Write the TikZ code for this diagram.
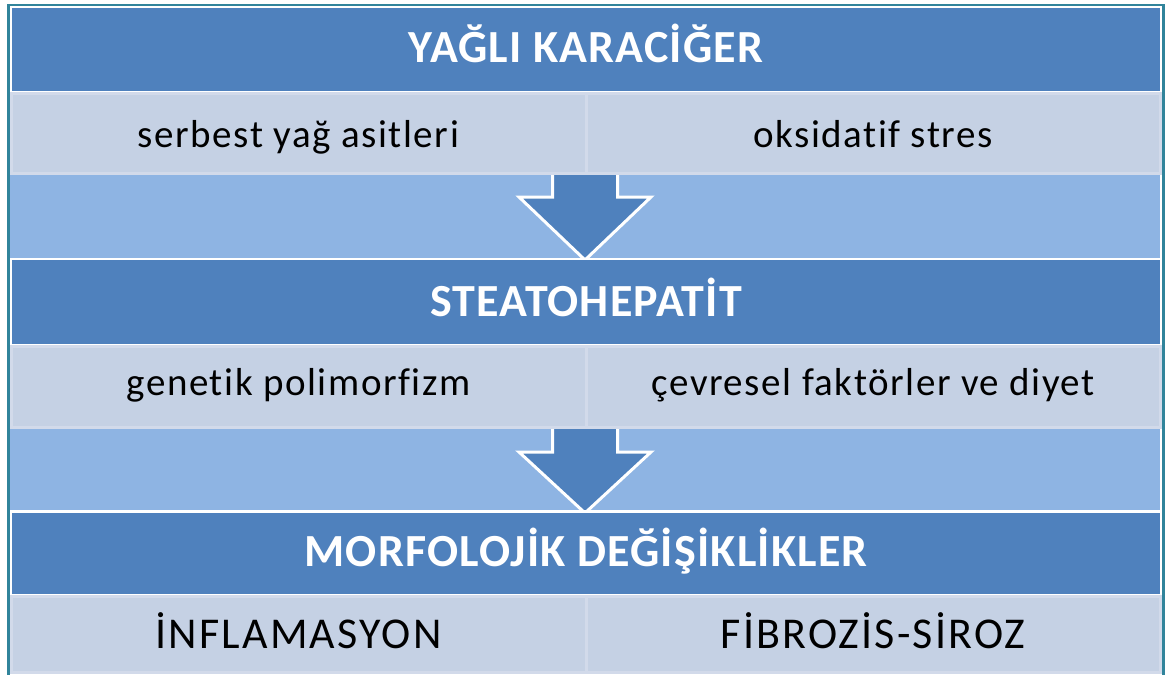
\documentclass[tikz,border=0pt]{standalone}
\usepackage{fontspec}
\setmainfont{Carlito}
\newfontfamily\hdrfont[LetterSpace=2.5, Ligatures=NoCommon]{Carlito}
\newfontfamily\bodyfont[LetterSpace=4, Ligatures=NoCommon]{Carlito}
\newfontfamily\lastfont[LetterSpace=5, Ligatures=NoCommon]{Carlito}
\usetikzlibrary{calc}
\definecolor{hdr}{HTML}{4F81BD}
\definecolor{cellbg}{HTML}{C5D1E4}
\definecolor{cellln}{HTML}{D2DAEA}
\definecolor{band}{HTML}{8EB4E3}
\definecolor{frame}{HTML}{31849B}
\tikzset{
  header/.style={fill=hdr, draw=white, line width=2.5pt, anchor=north west, inner sep=0pt, outer sep=0pt},
  cell/.style={fill=cellbg, draw=cellln, line width=3pt, anchor=north west, inner sep=0pt, outer sep=0pt},
  bandbox/.style={fill=band, draw=none, anchor=north west, inner sep=0pt, outer sep=0pt},
  htext/.style={font=\hdrfont\bfseries\fontsize{46}{50}\selectfont, text=white, anchor=base, inner sep=0pt},
  btext/.style={font=\bodyfont\fontsize{39}{43}\selectfont, text=black, anchor=base, inner sep=0pt},
  ltext/.style={font=\lastfont\fontsize{44}{48}\selectfont, text=black, anchor=base, inner sep=0pt},
  downarrow/.style={fill=hdr, draw=white, line width=3pt, line join=miter},
  frameline/.style={draw=frame, line width=2.5pt}
}
\begin{document}
\begin{tikzpicture}[x=1pt,y=-1pt]
\useasboundingbox (0,0) rectangle (1170,675);
\fill[white] (0,0) rectangle (1170,675);
% light bands
\node[bandbox, minimum width=1150pt, minimum height=86pt] (b1) at (10,172) {};
\node[bandbox, minimum width=1150pt, minimum height=84pt] (b2) at (10,427) {};
% arrows
\coordinate (a1) at ($(b1.north)+(0,0)$);
\draw[downarrow] ($(a1)+(-32.5,0)$) -- ($(a1)+(-32.5,25)$) -- ($(a1)+(-66,25)$) -- ($(a1)+(0,88)$) -- ($(a1)+(66,25)$) -- ($(a1)+(32.5,25)$) -- ($(a1)+(32.5,0)$);
\coordinate (a2) at ($(b2.north)+(0,0)$);
\draw[downarrow] ($(a2)+(-32.5,0)$) -- ($(a2)+(-32.5,25)$) -- ($(a2)+(-66,25)$) -- ($(a2)+(0,86)$) -- ($(a2)+(66,25)$) -- ($(a2)+(32.5,25)$) -- ($(a2)+(32.5,0)$);
% headers
\node[header, minimum width=1151pt, minimum height=86pt] (h1) at (10.5,6.5) {};
\node[header, minimum width=1151pt, minimum height=86pt] (h2) at (10.5,259) {};
\node[header, minimum width=1151pt, minimum height=84pt] (h3) at (10.5,511.5) {};
% cells
\node[cell, minimum width=575pt, minimum height=80pt] (c1a) at (11,93) {};
\node[cell, minimum width=574pt, minimum height=80pt] (c1b) at (586,93) {};
\node[cell, minimum width=575pt, minimum height=81pt] (c2a) at (11,346) {};
\node[cell, minimum width=574pt, minimum height=81pt] (c2b) at (586,346) {};
\node[cell, minimum width=575pt, minimum height=76pt] (c3a) at (11,596) {};
\node[cell, minimum width=574pt, minimum height=76pt] (c3b) at (586,596) {};
% texts
\node[htext] (t1) at ($(h1.center)+(0,13)$) {YAĞLI KARACİĞER};
\node[htext] (t2) at ($(h2.center)+(0,14)$) {STEATOHEPATİT};
\node[htext] (t3) at ($(h3.center)+(0,13)$) {MORFOLOJİK DEĞİŞİKLİKLER};
\node[btext] (s1a) at ($(c1a.center)+(0,14)$) {serbest yağ asitleri};
\node[btext] (s1b) at ($(c1b.center)+(0,14)$) {oksidatif stres};
\node[btext] (s2a) at ($(c2a.center)+(0,9)$) {genetik polimorfizm};
\node[btext] (s2b) at ($(c2b.center)+(0,9)$) {çevresel faktörler ve diyet};
\node[ltext] (s3a) at ($(c3a.center)+(0,14.5)$) {İNFLAMASYON};
\node[ltext] (s3b) at ($(c3b.center)+(0,14.5)$) {FİBROZİS-SİROZ};
% frame
\draw[frameline] (7,5) -- (1164,5);
\draw[frameline] (8.5,4) -- (8.5,675);
\draw[frameline] (1163.5,4) -- (1163.5,675);
\end{tikzpicture}
\end{document}
